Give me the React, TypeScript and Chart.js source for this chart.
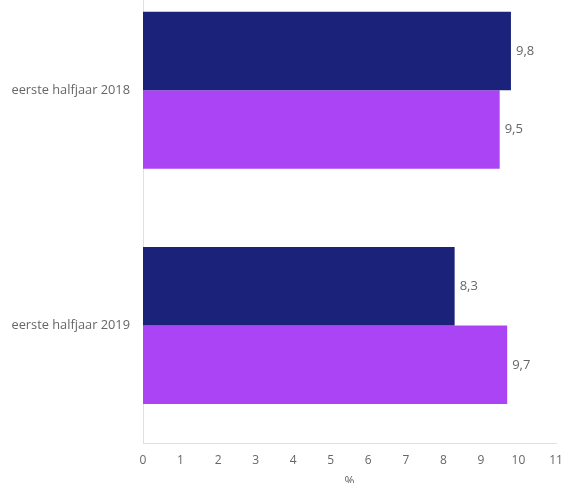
import React, { useEffect, useRef } from "react";
import { Chart, registerables } from "chart.js";

Chart.register(...registerables);

const categories = ["eerste halfjaar 2018", "eerste halfjaar 2019"];
const seriesA = [9.8, 8.3];
const seriesB = [9.5, 9.7];
const xTicks = [0, 1, 2, 3, 4, 5, 6, 7, 8, 9, 10, 11];
const axisTitle = "%";

const FONT = "'Open Sans', 'Noto Sans', sans-serif";

const valueLabels = {
  id: "valueLabels",
  afterDatasetsDraw(chart: any) {
    const ctx = chart.ctx;
    ctx.save();
    ctx.font = `13px ${FONT}`;
    ctx.fillStyle = "#666666";
    ctx.textAlign = "left";
    ctx.textBaseline = "middle";
    chart.data.datasets.forEach((ds: any, i: number) => {
      const meta = chart.getDatasetMeta(i);
      meta.data.forEach((el: any, j: number) => {
        const v = ds.data[j];
        ctx.fillText(String(v).replace(".", ","), el.x + 5, el.y);
      });
    });
    ctx.restore();
  },
};

export default function App() {
  const ref = useRef<HTMLCanvasElement | null>(null);
  useEffect(() => {
    if (!ref.current) return;
    const chart = new Chart(ref.current, {
      type: "bar",
      data: {
        labels: categories,
        datasets: [
          { label: "A", data: seriesA, backgroundColor: "#1a2279", categoryPercentage: 0.667, barPercentage: 1 },
          { label: "B", data: seriesB, backgroundColor: "#ab44f4", categoryPercentage: 0.667, barPercentage: 1 },
        ],
      },
      options: {
        indexAxis: "y",
        animation: false,
        responsive: true,
        maintainAspectRatio: false,
        layout: { padding: { top: 2, right: 10, bottom: 11, left: 0 } },
        plugins: { legend: { display: false }, tooltip: { enabled: false } },
        scales: {
          x: {
            min: 0,
            max: 11,
            afterBuildTicks: (axis: any) => {
              axis.ticks = xTicks.map((v) => ({ value: v }));
            },
            grid: { display: false },
            border: { color: "#d6e2ee", width: 1 },
            ticks: { color: "#666666", font: { family: FONT, size: 12 }, padding: 2 },
            title: { display: true, text: axisTitle, color: "#666666", font: { family: FONT, size: 12 }, padding: { top: 5, bottom: 0 } },
          },
          y: {
            grid: { display: false },
            border: { color: "#d6e2ee", width: 1 },
            ticks: { color: "#666666", font: { family: FONT, size: 12.8 }, padding: 5 },
            afterFit: (axis: any) => {
              axis.width = 143;
            },
          },
        },
      },
      plugins: [valueLabels],
    });
    return () => chart.destroy();
  }, []);
  return (
    <div style={{ position: "fixed", left: 0, top: -40, width: 566, height: 540, background: "#fff" }}>
      <canvas ref={ref} />
    </div>
  );
}
